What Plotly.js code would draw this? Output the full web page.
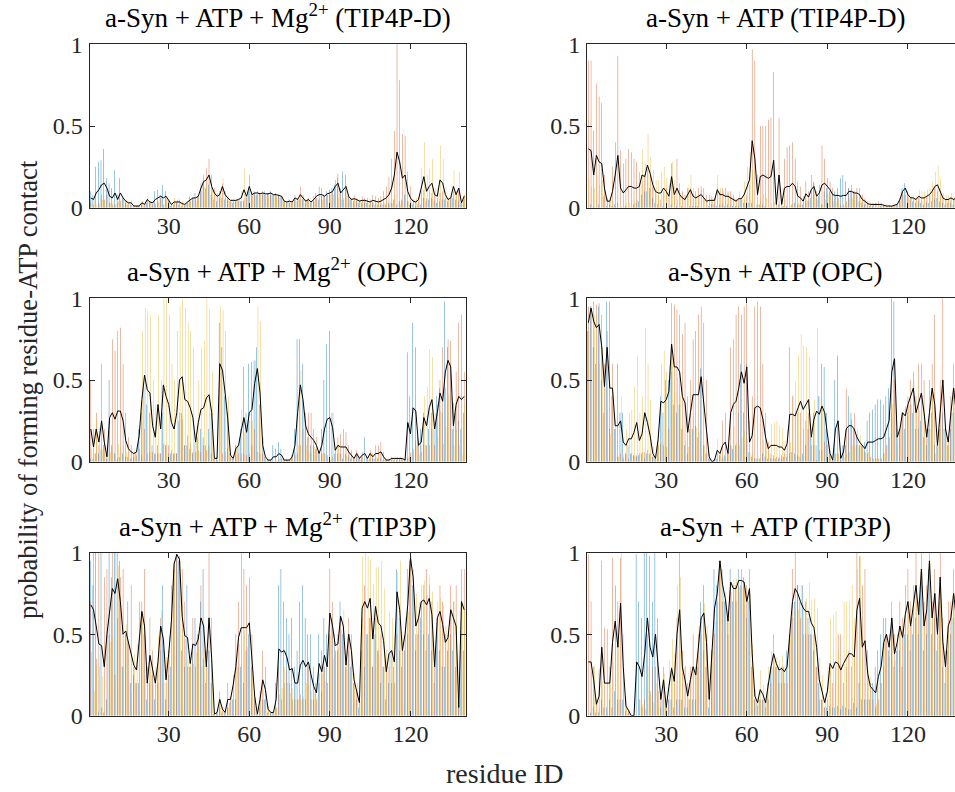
<!DOCTYPE html>
<html><head><meta charset="utf-8">
<script src="https://cdn.plot.ly/plotly-3.0.1.min.js"></script>
<style>html,body{margin:0;padding:0;overflow:hidden;background:#fff}#chart{width:970px;height:792px}</style>
</head><body><div id="chart"></div>
<script>
// residue IDs 1..140
const residues = Array.from({length:140},(_,i)=>i+1);
const xTicks = [30,60,90,120];
const yTicks = [0,0.5,1];
const yTickText = ['0','0.5','1'];
const titles = [
 'a-Syn + ATP + Mg<sup>2+</sup> (TIP4P-D)','a-Syn + ATP (TIP4P-D)',
 'a-Syn + ATP + Mg<sup>2+</sup> (OPC)','a-Syn + ATP (OPC)',
 'a-Syn + ATP + Mg<sup>2+</sup> (TIP3P)','a-Syn + ATP (TIP3P)'];

// ---- top-left: a-Syn + ATP + Mg2+ (TIP4P-D)
const tlBlue=[.1,.08,.25,.28,.29,.36,.18,.15,.12,.23,.08,.18,.06,.04,.02,.02,0,0,.01,.02,.01,.03,.04,.03,.1,.11,.08,.14,.1,.05,.01,.02,.03,.02,.01,.01,.03,.07,.06,.09,.07,.11,.15,.12,.14,.08,.05,.04,.06,.06,.05,.05,.04,.03,.04,.05,.04,.04,.08,.1,.09,.1,.08,.09,.08,.1,.09,.1,.08,.09,.08,.07,.04,.03,.05,.03,.05,.04,.05,.05,.03,.05,.03,.04,.09,.05,.07,.08,.1,.11,.12,.14,.18,.12,.22,.2,.08,.05,.04,.04,.03,.03,.03,.03,.02,.03,.02,.02,.02,.02,.02,.03,.03,.05,.02,.04,.05,.08,.04,.02,.02,.01,.02,.02,.06,.04,.05,.06,.04,.03,.04,.05,.05,.04,.05,.06,.05,.04,.03,.05];
const tlOrange=[.03,.02,0,.03,.08,.05,.08,.03,.02,.02,.03,.04,.05,.03,.03,.02,.01,.01,0,.03,.02,.05,.03,.02,.02,.04,.06,.02,.06,.04,.02,.03,.03,.05,.03,.02,.04,.04,.06,.05,.08,.15,.2,.24,.3,.2,.12,.08,.1,.15,.1,.06,.04,.05,.04,.04,.04,.05,.06,.2,.07,.09,.1,.08,.1,.08,.09,.08,.08,.07,.08,.07,.04,.04,.03,.04,.08,.06,.13,.08,.05,.06,.04,.07,.06,.13,.12,.07,.08,.08,.1,.17,.21,.1,.05,.12,.08,.06,.08,.06,.05,.07,.06,.06,.05,.08,.07,.06,.07,.1,.13,.19,.3,.47,1,.78,.45,.44,.22,.13,.05,.04,.06,.1,.11,.06,.1,.09,.08,.06,.09,.1,.06,.05,.06,.1,.09,.1,.03,.08];
const tlYellow=[.05,.05,.02,.02,.05,.04,.1,.03,.04,.02,.04,.05,.07,.05,.04,.05,.02,.02,.02,.04,.03,.07,.04,.04,.03,.03,.07,.02,.05,.05,.03,.06,.05,.04,.04,.03,.04,.04,.06,.04,.06,.1,.13,.15,.16,.11,.1,.09,.08,.18,.09,.07,.05,.05,.05,.06,.1,.24,.07,.09,.08,.08,.09,.08,.09,.07,.07,.09,.08,.08,.06,.07,.04,.03,.04,.03,.05,.05,.06,.05,.04,.04,.04,.04,.06,.06,.05,.06,.08,.08,.08,.08,.06,.05,.06,.07,.05,.04,.05,.05,.04,.04,.05,.03,.03,.03,.03,.03,.03,.03,.03,.02,.03,.08,0,.02,.04,.08,.04,.03,.05,.06,.07,.24,.4,.2,.24,.3,.12,.12,.38,.3,.13,.06,.07,.23,.1,.22,.03,.08];
const tlMean=[.06,.05,.09,.11,.14,.15,.12,.07,.06,.09,.05,.09,.06,.04,.03,.03,.01,.01,.01,.03,.02,.05,.035,.03,.05,.06,.07,.06,.07,.045,.02,.035,.035,.035,.025,.02,.035,.05,.06,.06,.07,.12,.16,.17,.2,.13,.09,.07,.08,.13,.08,.06,.045,.045,.045,.05,.06,.11,.07,.13,.08,.09,.09,.085,.09,.085,.085,.09,.08,.08,.075,.07,.04,.035,.04,.035,.06,.05,.08,.06,.04,.05,.035,.05,.07,.08,.08,.07,.085,.09,.1,.13,.15,.09,.11,.13,.07,.05,.055,.05,.04,.045,.045,.04,.035,.045,.04,.035,.04,.05,.06,.08,.12,.2,.34,.28,.18,.2,.1,.06,.04,.035,.05,.12,.19,.1,.13,.15,.08,.07,.17,.15,.08,.05,.06,.13,.08,.12,.03,.07];

// ---- top-right: a-Syn + ATP (TIP4P-D)
const trBlue=[0,.02,.01,0,.02,0,.07,.01,.02,.01,.02,.03,0,0,.01,0,0,.02,.03,.04,.08,.1,.1,.12,.06,.03,.02,0,.01,0,0,.02,0,.01,0,.01,0,0,.01,.01,.01,.01,0,0,0,.01,.02,.02,.01,.02,.02,.01,.02,.01,.01,.01,.01,.05,.03,.03,.03,.03,0,.02,.02,.02,.01,0,0,0,0,.02,0,.01,.01,0,.02,.03,.02,.02,.02,.04,.04,.06,.16,.06,.07,.02,.1,.12,.1,.08,.1,.12,.18,.2,.16,.12,.1,.1,.08,.04,.03,.02,.01,.01,.01,0,0,.01,.01,0,0,.01,.01,.02,.05,.12,.15,.1,.05,.04,.03,.04,.03,.02,.03,.03,.04,.05,.06,.04,.03,.02,.03,.03,.02,.03,.02,.03];
const trOrange=[.9,.9,.47,.76,.68,.64,.2,.06,.04,.25,.4,.93,.35,.27,.3,.36,.34,.3,.28,.22,.16,.2,.23,.2,.13,.1,.08,.05,.1,.12,.06,.27,.07,.3,.15,.1,.08,.12,.12,.08,.1,.12,.13,.12,.08,.08,.07,.06,.12,.1,.12,.12,.1,.1,.08,.06,.06,.05,.05,.08,.14,.97,.9,.2,.5,.5,.5,.54,.55,.83,.06,.55,.05,.3,.37,.38,.4,.3,.16,.13,.07,.16,.1,.2,.15,.1,.14,.38,.3,.18,.16,.12,.08,.06,.02,.02,.04,.12,.14,.1,.12,.12,.08,.06,.04,.03,.03,.03,.04,.03,.02,.02,.02,.01,.02,.02,.06,.1,.08,.06,.06,.06,.05,.06,.05,.06,.07,.08,.1,.12,.1,.08,.06,.05,.05,.06,.06,.06,.06,.05];
const trYellow=[.18,.13,.12,.2,.14,.17,.09,.05,.06,.04,.18,0,.01,0,.02,.03,.05,.04,.05,.13,.36,.27,.45,.31,.23,.17,.17,.22,.25,.18,.15,.28,.17,.05,.09,.07,.07,.12,.2,.12,.07,.08,.11,.06,.04,.05,.05,.06,.2,.12,.1,.08,.09,.07,.06,.05,.1,.07,.16,.25,.34,.23,0,.02,.05,.08,.06,0,.02,.04,0,.03,.01,.05,.01,.01,.03,.06,.03,.03,.03,.05,.05,.07,.08,.05,.06,.02,.05,.09,.07,.04,.04,.05,.01,.01,.03,.06,.06,.07,.07,.08,.04,.04,.03,.02,.02,.03,.02,.02,.02,.01,.01,.01,.02,.02,.04,.08,.13,.08,.07,.08,.07,.11,.1,.1,.11,.13,.16,.22,.26,.18,.09,.08,.07,.09,.07,.09,.07,.07];
const trMean=[.36,.35,.2,.32,.28,.27,.12,.04,.04,.1,.2,.32,.12,.09,.11,.13,.13,.12,.12,.13,.2,.19,.26,.21,.14,.1,.09,.09,.12,.1,.07,.19,.08,.12,.08,.06,.05,.08,.11,.07,.06,.07,.08,.06,.04,.045,.045,.045,.11,.08,.08,.07,.07,.06,.05,.04,.055,.055,.08,.12,.17,.41,.3,.08,.19,.2,.19,.18,.19,.29,.02,.2,.02,.12,.13,.13,.15,.13,.07,.06,.04,.085,.065,.11,.13,.07,.09,.14,.15,.13,.11,.08,.075,.075,.07,.075,.075,.1,.1,.09,.09,.08,.05,.04,.025,.02,.02,.02,.02,.02,.015,.01,.01,.01,.015,.02,.05,.1,.12,.08,.06,.06,.05,.07,.06,.06,.07,.08,.1,.13,.14,.1,.06,.05,.05,.06,.05,.06,.05,.05];

// ---- middle-left: a-Syn + ATP + Mg2+ (OPC)
const mlBlue=[.02,.02,.05,.05,.07,.1,.02,.5,.1,.05,.02,.03,.05,.03,.03,.02,.03,.06,.2,.3,.45,.35,.3,.1,.05,.1,.05,.3,.1,.05,.05,.05,.05,.25,.3,.1,.1,.08,.05,.12,.15,.2,.15,.1,.2,.3,.02,.03,.85,.7,.4,.3,.05,.02,.1,.1,.2,.58,.3,.6,.61,.62,.7,.35,.1,.03,.01,.01,.1,.08,.12,.08,.02,.01,.01,.04,.2,.75,.75,.6,.3,.15,.1,.1,.08,.06,.2,.5,.72,.8,.3,.05,.05,.05,.02,.05,.03,.02,.02,.04,.02,.03,.15,.03,.02,.02,.02,.02,.02,.01,.01,0,.01,.01,.01,.01,.02,.01,.67,.4,.85,.7,.15,.2,.3,.1,.2,.3,.2,.4,.45,.3,.98,.7,.6,.2,.3,.25,.2,.3];
const mlOrange=[.5,.2,.3,.1,.6,.2,.05,.25,.75,.68,.8,.82,.6,.3,.15,.1,.05,.04,.08,.04,.2,.05,.06,.06,.05,.05,.05,.11,.1,.1,.07,.05,.05,.3,.26,.1,.16,.11,.06,.06,.07,.06,.1,.07,.1,.05,.02,.01,0,.05,.06,.08,.03,.02,.04,.05,.05,.05,.04,.05,.1,.2,.06,.05,.05,.02,.01,.01,0,0,.01,.02,.01,.01,.01,.02,.04,.05,.1,.2,.26,.3,.3,.2,.15,.05,.05,.05,.04,0,.03,.08,.15,.17,.2,.18,.1,.07,.03,.07,.03,.06,0,.02,.07,.05,.1,.1,.12,.06,.01,.02,.03,.02,.02,.02,.02,.01,.02,.05,.08,.13,.1,.06,.11,.1,.1,.2,.1,.35,.5,.7,.45,.75,.74,.36,.55,.85,.9,.55];
const mlYellow=[.08,.05,.25,.21,.08,.06,.02,.06,.05,.05,.11,.08,.1,.06,.06,.06,.07,.08,.2,.8,.94,.92,.9,.5,.35,.9,.5,1,1,.9,.6,.5,.8,.95,1,.94,.85,.8,.7,.18,.5,.7,.74,1,.93,.55,.02,.02,.95,.93,.8,.4,.04,.02,.1,.15,.32,.18,.2,.25,.25,.62,.95,.86,.15,.04,.01,.01,0,.01,.02,.02,0,.01,.01,.03,.06,.1,.56,.34,.1,.06,.05,.09,.07,.04,.05,.05,.02,.01,.3,.08,.1,.05,.05,.04,.05,.03,.01,.04,.01,.03,0,.01,.06,.02,.03,.03,.04,.02,.01,.01,.02,.03,.03,.03,.02,.01,.03,.06,.06,.1,.05,.1,.4,.46,.69,.64,.3,.15,.31,.11,.22,.41,.4,.1,.2,.1,.04,.35];
const mlMean=[.2,.09,.2,.12,.25,.12,.03,.27,.3,.26,.31,.31,.25,.13,.08,.06,.05,.06,.16,.38,.53,.44,.42,.22,.15,.35,.2,.47,.4,.35,.24,.2,.3,.5,.52,.38,.37,.33,.27,.12,.24,.32,.33,.39,.41,.3,.02,.02,.6,.56,.42,.26,.04,.02,.08,.1,.19,.27,.18,.3,.32,.48,.57,.42,.1,.03,.01,.01,.03,.03,.05,.04,.01,.01,.01,.03,.1,.3,.47,.38,.22,.17,.15,.13,.1,.05,.1,.2,.26,.27,.21,.07,.1,.09,.09,.09,.06,.04,.02,.05,.02,.04,.05,.02,.05,.03,.05,.05,.06,.03,.01,.01,.02,.02,.02,.02,.02,.01,.24,.17,.33,.31,.1,.12,.27,.22,.33,.38,.2,.3,.42,.37,.55,.62,.58,.22,.35,.4,.38,.4];

// ---- middle-right: a-Syn + ATP (OPC)
const mrBlue=[.8,.95,.7,.6,.95,.5,.3,.98,.98,.4,.2,.6,.3,.3,.05,.1,.05,.04,.03,.04,.05,.02,.05,.05,.03,.02,.12,.4,.3,.5,.5,.55,.35,.3,.35,.2,.1,.05,.2,.2,.22,.15,.57,.1,.05,.02,0,.01,.02,.04,.02,.04,.05,.1,.08,.1,.3,.6,.3,.6,.06,.03,.02,.02,.02,.05,.03,.02,.02,.02,.02,.02,.02,.03,.03,.05,.06,.05,.04,.03,.05,.1,.2,.15,.3,.1,.4,.6,.58,.3,.08,.01,.5,.65,.04,.1,.1,.4,.3,.2,.15,.1,.1,.12,.25,.3,.32,.35,.38,.38,.35,.4,.45,1,.98,.2,.2,.3,.2,.3,.35,.3,.2,.2,.25,.15,.1,.2,.3,.1,.1,.2,.3,.2,.1,.2,.3,.2,.1,.2];
const mrOrange=[.95,.95,.98,.96,.97,.9,.6,.8,.2,.6,.2,.03,.05,.02,.05,.02,.05,.04,.04,.05,.06,.06,.07,.05,.03,.02,.1,.11,.1,.09,.2,.97,.96,.93,.9,.78,.85,.4,.5,.75,.8,.9,.95,.85,.5,.05,0,.01,.05,.05,.25,.3,.05,.7,.75,.9,.95,.9,.95,1,.25,.4,.95,.98,.95,.6,.3,.12,.05,.04,.03,.03,.04,.05,.1,.7,.4,.3,.3,.3,.2,.25,.3,.1,.1,.01,.07,.07,.12,.1,.04,.01,.05,.05,.01,.05,.45,.2,.26,.3,.1,.1,.1,.06,.05,.03,.02,.02,.02,.02,.05,.1,.15,.3,.5,.15,.2,.3,.34,.4,.5,.55,.4,.6,.6,.5,.2,.5,.6,.9,.1,.5,1,.2,.16,.4,.6,.4,.3,.4];
const mrYellow=[.8,.92,.9,.9,.6,.7,.48,.32,.17,.35,.26,.03,.4,.04,.2,.3,.32,.46,.65,.3,.4,.82,.6,.38,.09,.02,.2,.6,.68,.55,.59,.64,.43,.51,.4,.22,.13,.09,.2,.28,.21,.18,.04,.1,.05,.02,0,.01,.14,.06,.03,.02,.05,.1,.22,.11,.1,.15,.19,.14,.05,.05,.02,.02,.02,.13,.12,.1,.23,.24,.25,.22,.21,.13,.2,.12,.41,.49,.65,.78,.71,.7,.64,.2,.38,.82,.4,.35,.2,.11,.03,.01,.05,.05,.01,.03,.05,.06,.1,.1,.2,.16,.1,.06,.06,.03,.02,.02,.02,.02,.05,.1,.15,.35,.41,.1,.2,.3,.3,.35,.35,.5,.3,.31,.41,.25,.15,.2,.45,.05,.1,.2,.2,.2,.1,.3,.45,.3,.2,.3];
const mrMean=[.85,.94,.86,.82,.84,.7,.46,.7,.45,.45,.22,.22,.25,.12,.1,.14,.14,.18,.24,.13,.17,.3,.24,.16,.05,.02,.14,.37,.36,.38,.43,.72,.58,.58,.55,.4,.36,.18,.3,.41,.41,.41,.52,.35,.2,.03,0,.01,.07,.05,.1,.12,.05,.3,.35,.37,.45,.55,.48,.58,.12,.16,.33,.34,.33,.26,.15,.08,.1,.1,.1,.09,.09,.07,.11,.29,.29,.28,.33,.37,.32,.35,.38,.15,.26,.31,.29,.34,.3,.17,.05,.01,.2,.25,.02,.06,.2,.22,.22,.2,.15,.12,.1,.08,.12,.12,.12,.13,.14,.14,.15,.2,.25,.55,.63,.15,.2,.3,.28,.35,.4,.45,.3,.37,.42,.3,.15,.3,.45,.35,.1,.3,.5,.2,.12,.3,.45,.3,.2,.3];

// ---- bottom-left: a-Syn + ATP + Mg2+ (TIP3P)
const blBlue=[.95,.8,1,.02,1,.02,.1,1,.85,1,1,.95,.3,.5,.7,.2,.25,.2,.2,.6,.5,.1,.2,.25,.1,.3,.4,.8,.1,.25,.3,.9,.99,.95,.4,.3,.8,.3,.4,.6,.5,.7,.9,.2,.4,.2,.01,.02,.05,.02,.02,.05,.08,.1,.1,.3,.3,.2,.4,.5,.3,.1,.01,.05,.1,.1,.02,.02,.02,.2,.8,.9,.7,.6,.5,.6,.3,.4,.7,.8,.6,.5,.5,.3,.2,.5,.4,.6,.5,.5,.6,.5,.4,.7,.5,.3,.4,.3,.2,.1,.05,.4,.3,.5,.6,.3,.5,.4,.2,.3,.1,.2,.4,.3,.9,.6,.3,.4,.9,.95,.8,.4,.5,.6,.5,.4,.5,.4,.2,.5,.4,.3,.3,.4,.5,.4,.3,.05,.5,.4];
const blOrange=[.7,1,.35,1,.05,.85,.9,.5,1,.25,.6,.85,.9,.5,.45,.8,.3,.2,.7,.7,.9,.3,.6,.4,.2,.2,.6,.41,.2,.4,.8,.95,.99,.98,.9,.7,.3,.3,.6,.3,.5,.8,.35,.4,1,.6,.01,.02,.15,.05,.02,.2,.12,.25,.5,.7,1,.9,.8,.85,.5,.15,.01,.15,.4,.3,.06,.02,.02,.05,.3,.1,.2,.28,.2,.1,.1,.1,.13,.1,.1,.3,.1,.1,.1,.2,.15,.3,.2,.9,.7,.4,.5,.6,.5,.3,.6,.5,.2,.15,.1,.6,.8,.5,.6,.3,.6,.4,.5,.3,.3,.3,.2,.2,.5,.4,.4,.5,.5,.98,.85,.5,.6,.7,.8,.9,.8,.7,.3,.6,.8,.7,.5,.5,.8,.7,.8,.05,.9,.9];
const blYellow=[.39,.15,.3,.3,.24,.03,.5,.45,.49,1,.92,.3,.3,.56,.2,.14,.38,.44,.51,.62,.25,.2,.31,.19,.3,.49,.65,.2,.36,.49,.64,.94,.99,.95,.53,.47,.34,.36,.32,.39,.41,.3,.4,.3,.4,.25,.01,.02,.1,.05,.02,.05,.1,.22,.3,.44,.32,.52,.42,.36,.25,.11,.01,.1,.16,.08,.04,.02,.02,.05,.13,.17,.3,.2,.14,.17,.2,.1,.1,.12,.2,.19,.15,.14,.12,.26,.26,.21,.2,.49,.35,.39,.42,.53,.65,.33,.5,.4,.26,.2,.09,.98,1,.98,.96,.81,.91,.91,.95,.78,.41,.64,.6,.49,.88,.95,.5,.6,.64,.98,.9,.75,.7,.8,.83,.74,.86,.76,.4,.7,.72,.68,.55,.54,.65,.7,.55,.05,.7,.65];
const blMean=[.68,.65,.55,.44,.43,.3,.5,.65,.78,.75,.84,.7,.5,.52,.45,.38,.31,.28,.47,.64,.55,.2,.37,.28,.2,.33,.55,.47,.22,.38,.58,.93,.99,.96,.61,.49,.48,.32,.44,.43,.47,.6,.55,.3,.6,.35,.01,.02,.1,.04,.02,.1,.1,.19,.3,.48,.54,.54,.54,.57,.35,.12,.01,.1,.22,.16,.04,.02,.02,.1,.41,.39,.4,.36,.28,.29,.2,.2,.31,.34,.3,.33,.25,.18,.14,.32,.27,.37,.3,.63,.55,.43,.44,.61,.55,.31,.5,.4,.22,.15,.08,.66,.7,.66,.72,.47,.67,.57,.55,.46,.27,.38,.4,.33,.76,.65,.4,.5,.68,.97,.85,.55,.6,.7,.71,.68,.72,.62,.3,.6,.64,.56,.45,.48,.65,.6,.55,.05,.7,.65];

// ---- bottom-right: a-Syn + ATP (TIP3P)
const brBlue=[0,.02,.05,.02,.02,.1,.05,.05,.1,.05,.15,.1,.1,.1,.03,.02,0,0,.99,.7,.6,1,1,.98,.7,1,.6,.05,.1,.05,.1,.1,.05,.1,.1,.1,.05,.05,.1,.1,.1,.3,.7,.8,.3,.05,.4,.9,.8,.95,.9,.7,.6,.9,.7,.8,.9,.8,.85,.6,.7,.3,.1,.08,.1,.1,.1,.2,.3,.3,.3,.3,.3,.3,.4,.5,.6,.7,.8,.7,.8,.7,.6,.5,.4,.3,.2,.1,.05,.05,.06,.05,.05,.06,.04,.06,.05,.04,.04,.08,.05,.2,.1,.1,.1,.1,.2,.3,.4,.5,.6,.6,.4,.6,.3,.4,.4,.3,.5,.5,.4,.5,.6,.5,.8,.4,.5,.9,.5,.6,.4,.7,.3,.2,.4,.5,.6,.5,.5,.5];
const brOrange=[.99,.7,.3,.1,.29,.95,.54,.53,.3,.97,.8,.7,.97,.3,.1,.03,0,0,0,.1,.05,.1,.5,.15,.3,.3,.15,.15,.3,.05,.1,.3,.2,.6,1,.4,.3,.2,.3,.5,.3,.5,.5,.4,.5,.15,.4,.5,.7,.95,.7,.7,.5,.8,.8,.7,.8,.9,.8,.8,.9,.4,.1,.06,.1,.1,.05,.1,.2,.5,.3,.2,.2,.2,.2,.5,.9,1,.8,.6,.5,.5,.5,.5,.5,.3,.1,.1,.05,.1,.3,.2,.3,.5,.5,.2,.3,.4,.3,.4,1,.98,.8,.9,.4,.2,.1,.05,.1,.2,.3,.5,.5,.7,.5,.5,.7,.6,.8,.9,.7,.8,1,.7,1,.7,.8,1,.7,.9,.6,1,.6,.4,.7,.7,.9,.7,.8,.9];
const brYellow=[0,.27,.31,.09,.05,.21,.01,.02,.2,.33,.79,.46,1,.5,.05,.04,0,0,0,.1,.07,.04,.3,.13,.08,.2,.06,.1,.26,.05,.34,.47,.38,.8,.85,.4,.31,.11,.26,.3,.35,.55,.6,.69,.55,.1,.4,.58,.75,.95,.8,.76,.64,.76,.84,.84,.79,.79,.81,.7,.74,.44,.16,.1,.28,.19,.09,.3,.4,.34,.36,.34,.37,.31,.3,.5,.6,.64,.65,.8,.68,.72,.82,.71,.72,.66,.36,.25,.14,.3,.6,.62,.64,.4,.3,.7,.7,.7,.8,.6,.9,.98,.36,.38,.28,.24,.18,.07,.22,.2,.45,.4,.36,.5,.34,.45,.55,.54,.56,.7,.55,.74,.8,.66,.9,.55,.65,.95,.6,.75,.5,.85,.45,.3,.55,.6,.75,.6,.65,.7];
const brMean=[.33,.33,.22,.07,.12,.42,.2,.2,.2,.45,.58,.42,.69,.3,.06,.03,0,0,.33,.3,.24,.38,.6,.42,.36,.5,.27,.1,.22,.05,.18,.29,.21,.5,.65,.3,.22,.12,.22,.3,.25,.45,.6,.63,.45,.1,.4,.66,.75,.95,.8,.72,.58,.82,.78,.78,.83,.83,.82,.7,.78,.38,.12,.08,.16,.13,.08,.2,.3,.38,.32,.28,.29,.27,.3,.5,.7,.78,.75,.7,.66,.64,.64,.57,.54,.42,.22,.15,.08,.15,.32,.29,.33,.32,.28,.32,.35,.38,.38,.36,.65,.72,.42,.46,.26,.18,.16,.14,.24,.3,.45,.5,.42,.6,.38,.45,.55,.48,.62,.7,.55,.68,.8,.62,.9,.55,.65,.95,.6,.75,.5,.85,.45,.3,.55,.6,.75,.6,.65,.7];

const panels = [
 [tlBlue,tlOrange,tlYellow,tlMean],[trBlue,trOrange,trYellow,trMean],
 [mlBlue,mlOrange,mlYellow,mlMean],[mrBlue,mrOrange,mrYellow,mrMean],
 [blBlue,blOrange,blYellow,blMean],[brBlue,brOrange,brYellow,brMean]];

const W = 970, H = 792;
const colsPx = [[89.5,465.5],[587,963]];
const rowsPx = [[44.3,207.7],[298.3,461.7],[552.7,715.7]];
const colors = ['#0072BD','#D95319','#EDB120'];
const barW = 0.15, offs = [-0.297,-0.075,0.147];
const FONT = 'Times New Roman, Liberation Serif, Tinos, DejaVu Serif, serif';
const AX = '#262626';

const traces = [], layout = {
  width: W, height: H, margin:{l:0,r:0,t:0,b:0}, showlegend:false,
  paper_bgcolor:'#fff', plot_bgcolor:'#fff', barmode:'overlay',
  font:{family:FONT, size:24, color:AX}, annotations:[]
};

panels.forEach((p,k)=>{
  const r = Math.floor(k/2), c = k%2, n = k+1;
  const xa = n===1?'x':'x'+n, ya = n===1?'y':'y'+n;
  for(let s=0;s<3;s++){
    traces.push({type:'bar', x:residues, y:p[s], xaxis:xa, yaxis:ya,
      width:barW, offset:offs[s], marker:{color:colors[s], line:{width:0}}, hoverinfo:'skip'});
  }
  traces.push({type:'scatter', mode:'lines', x:residues, y:p[3], xaxis:xa, yaxis:ya,
    line:{color:'#000', width:1}, hoverinfo:'skip'});
  const xd = [colsPx[c][0]/W, colsPx[c][1]/W];
  const yd = [1-rowsPx[r][1]/H, 1-rowsPx[r][0]/H];
  layout[n===1?'xaxis':'xaxis'+n] = {domain:xd, anchor:ya, range:[0.5,140.5], tickvals:xTicks,
    ticks:'inside', ticklen:5, tickcolor:AX, showline:true, linecolor:AX, linewidth:1, mirror:'ticks',
    showgrid:false, zeroline:false, tickfont:{family:FONT,size:24,color:AX}, ticklabelstandoff:-4, fixedrange:true};
  layout[n===1?'yaxis':'yaxis'+n] = {domain:yd, anchor:xa, range:[0,1], tickvals:yTicks, ticktext:yTickText,
    ticks:'inside', ticklen:5, tickcolor:AX, showline:true, linecolor:AX, linewidth:1, mirror:'ticks',
    showgrid:false, zeroline:false, tickfont:{family:FONT,size:24,color:AX}, ticklabelstandoff:1, fixedrange:true};
  layout.annotations.push({text:titles[k], xref:'paper', yref:'paper', x:(xd[0]+xd[1])/2, y:yd[1],
    yshift:9, xanchor:'center', yanchor:'bottom', showarrow:false, font:{family:FONT,size:27,color:'#000'}});
});

layout.annotations.push({text:'residue ID', xref:'paper', yref:'paper', x:504/W, y:1-773/H,
  xanchor:'center', yanchor:'middle', showarrow:false, font:{family:FONT,size:28,color:AX}});
layout.annotations.push({text:'probability of forming residue-ATP contact', xref:'paper', yref:'paper',
  x:28/W, y:1-390/H, textangle:-90, xanchor:'center', yanchor:'middle', showarrow:false,
  font:{family:FONT,size:26.5,color:AX}});

Plotly.newPlot('chart', traces, layout, {staticPlot:true, displayModeBar:false});
</script></body></html>
